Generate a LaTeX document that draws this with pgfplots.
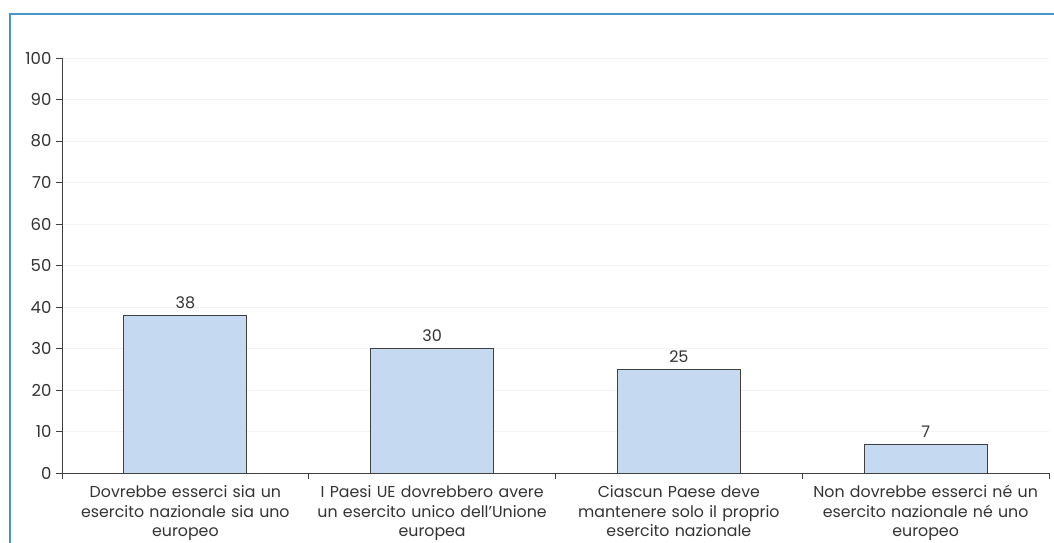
\documentclass[border=0pt]{standalone}
\usepackage{fontspec}
\setmainfont{Poppins}
\usepackage{pgfplots}
\pgfplotsset{compat=1.18}
\definecolor{framec}{HTML}{4A94CE}
\definecolor{barc}{HTML}{C5D9F1}
\definecolor{axc}{HTML}{404040}
\definecolor{txc}{HTML}{333333}
\definecolor{gridc}{HTML}{F3F3F3}
\begin{document}
\begin{tikzpicture}[x=1pt,y=1pt]
\path[use as bounding box] (0,0) rectangle (1054,543);
\draw[framec, line width=2pt] (10,0) -- (10,529) -- (1054,529);
\begin{axis}[
  at={(62pt,70pt)}, anchor=south west,
  scale only axis, width=987pt, height=415pt,
  xmin=-0.5, xmax=3.5, ymin=0, ymax=100,
  ytick={0,10,...,100},
  xtick={0,1,2,3},
  xticklabels={{Dovrebbe esserci sia un\\esercito nazionale sia uno\\europeo},
               {I Paesi UE dovrebbero avere\\un esercito unico dell'Unione\\europea},
               {Ciascun Paese deve\\mantenere solo il proprio\\esercito nazionale},
               {Non dovrebbe esserci né un\\esercito nazionale né uno\\europeo}},
  x tick label style={align=center, text width=240pt, font=\fontsize{15.8}{19.5}\selectfont, text=txc, yshift=-3pt},
  y tick label style={font=\fontsize{16.5}{18}\selectfont, text=txc, xshift=-1pt},
  /pgf/number format/assume math mode=true,
  minor xtick={-0.5,0.5,1.5,2.5,3.5},
  major x tick style={draw=none},
  minor tick length=6pt, major tick length=6pt,
  tick align=outside,
  axis x line*=bottom, axis y line*=left,
  axis line style={axc, line width=0.9pt},
  every tick/.style={axc, line width=0.9pt},
  ymajorgrids, major grid style={gridc, line width=0.8pt},
  ybar, bar width=123pt,
  nodes near coords,
  every node near coord/.append style={font=\fontsize{16}{18}\selectfont, text=txc, yshift=3pt},
  clip=false,
]
\addplot[fill=barc, draw=axc, line width=0.8pt] coordinates {(0,38) (1,30) (2,25) (3,7)};
\end{axis}
\end{tikzpicture}
\end{document}
